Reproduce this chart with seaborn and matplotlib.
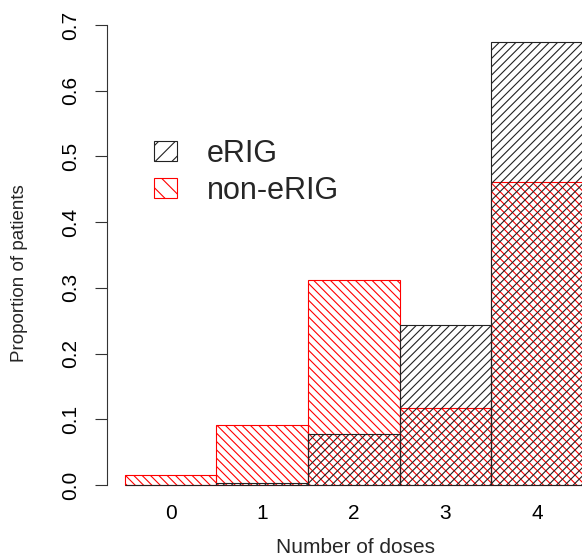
import matplotlib
matplotlib.use("Agg")
import matplotlib.pyplot as plt
from matplotlib.patches import Patch
import pandas as pd
import seaborn as sns

# proportions
doses = [0, 1, 2, 3, 4]
erig = [0.0, 0.003, 0.078, 0.243, 0.674]
non_erig = [0.015, 0.091, 0.312, 0.117, 0.461]
y_ticks = [0.0, 0.1, 0.2, 0.3, 0.4, 0.5, 0.6, 0.7]
y_tick_labels = ["0.0", "0.1", "0.2", "0.3", "0.4", "0.5", "0.6", "0.7"]
series_names = ["eRIG", "non-eRIG"]

sns.set_style("ticks")
plt.rcParams['font.family'] = ['Liberation Sans', 'DejaVu Sans']
plt.rcParams['hatch.linewidth'] = 0.8

df = pd.DataFrame({"doses": doses, "eRIG": erig, "non-eRIG": non_erig})

fig = plt.figure(figsize=(5.82, 5.59), dpi=100)
ax = fig.add_axes([0.1838, 0.1089, 0.8162, 0.8699])

# red series first, black drawn over it
sns.barplot(data=df, x="doses", y="non-eRIG", width=1, fill=False, color="red",
            errorbar=None, native_scale=True, ax=ax)
n_red = len(ax.patches)
sns.barplot(data=df, x="doses", y="eRIG", width=1, fill=False, color="black",
            errorbar=None, native_scale=True, ax=ax)

for i, p in enumerate(ax.patches):
    col = "red" if i < n_red else "#222222"
    p.set_facecolor("none")
    p.set_edgecolor(col)
    p.set_linewidth(0.8)
    p.set_hatch("\\\\\\\\" if i < n_red else "////")

ax.set_xlim(-0.694, 4.49)
ax.set_ylim(-0.02, 0.72)

ax.set_xticks(doses)
ax.set_xticklabels([str(d) for d in doses])
ax.set_yticks(y_ticks)
ax.set_yticklabels(y_tick_labels, rotation=90, va="center")
ax.tick_params(axis="x", length=0, pad=4, labelsize=15, colors="black")
ax.tick_params(axis="y", length=8.4, width=0.8, pad=11, labelsize=15,
               color="#333333", labelcolor="black")

for side in ["top", "right", "bottom"]:
    ax.spines[side].set_visible(False)
ax.spines["left"].set_bounds(0, 0.7)
ax.spines["left"].set_linewidth(0.8)
ax.spines["left"].set_color("#333333")

ax.set_xlabel("Number of doses", fontsize=15)
ax.set_ylabel("Proportion of patients", fontsize=13.5)
ax.xaxis.set_label_coords(0.524, -0.082)
ax.yaxis.set_label_coords(-0.166, 0.463)

handles = [
    Patch(facecolor="none", edgecolor="#222222", hatch="//", linewidth=0.8),
    Patch(facecolor="none", edgecolor="red", hatch="\\\\", linewidth=0.8),
]
ax.legend(handles, series_names, loc="center left", bbox_to_anchor=(0.099, 0.670),
          frameon=False, fontsize=22, handlelength=0.75, handleheight=0.65,
          handletextpad=0.98, labelspacing=0.23, borderpad=0, borderaxespad=0)

fig.savefig("out.png", dpi=100)
